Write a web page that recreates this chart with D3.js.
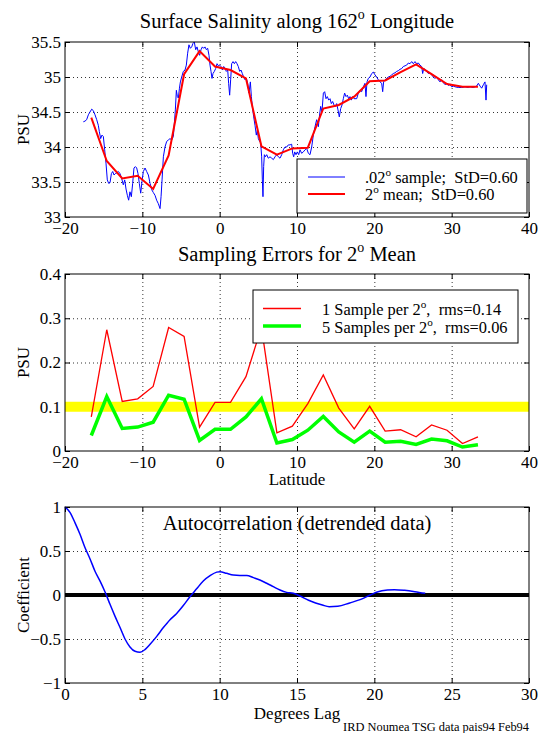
<!DOCTYPE html>
<html>
<head>
<meta charset="utf-8">
<script src="https://cdn.jsdelivr.net/npm/d3@7"></script>
<style>
  body { margin: 0; background: #fff; }
  svg text { font-family: "Liberation Serif", "Times New Roman", serif; fill: #000; white-space: pre; }
</style>
</head>
<body>
<svg id="chart" width="539" height="733"></svg>
<script>
// ---- data ----

// .02 deg samples (traced)
const sampleLat = [
  -17.63,-17.41,-17.2,-16.98,-16.77,-16.55,-16.34,-16.12,-15.9,-15.69,-15.56,-15.39,-15.22,-15.04,-14.87,-14.7,
  -14.53,-14.35,-14.18,-14.0,-13.83,-13.66,-13.49,-13.32,-13.1,-12.89,-12.67,-12.46,-12.28,-12.11,-11.94,-11.77,
  -11.6,-11.42,-11.25,-11.08,-10.9,-10.73,-10.56,-10.39,-10.21,-10.04,-9.87,-9.65,-9.44,-9.22,-9.0,-8.79,-8.58,
  -8.36,-8.15,-7.93,-7.71,-7.58,-7.45,-7.28,-7.07,-6.85,-6.64,-6.42,-6.21,-5.99,-5.86,-5.73,-5.6,-5.47,-5.34,
  -5.2,-5.08,-4.91,-4.7,-4.48,-4.31,-4.14,-3.97,-3.79,-3.62,-3.45,-3.28,-3.1,-2.93,-2.76,-2.59,-2.41,-2.24,
  -2.07,-1.9,-1.72,-1.55,-1.38,-1.25,-1.12,-0.99,-0.86,-0.69,-0.52,-0.34,-0.17,0.0,0.17,0.35,0.52,0.69,0.86,
  1.04,1.16,1.29,1.42,1.55,1.73,1.9,2.07,2.24,2.41,2.59,2.76,2.93,3.1,3.28,3.45,3.62,3.79,3.97,4.1,4.22,4.4,
  4.57,4.74,4.87,5.0,5.17,5.3,5.43,5.52,5.6,5.69,5.78,5.91,6.08,6.29,6.51,6.73,6.94,7.16,7.37,7.59,7.8,8.02,
  8.23,8.45,8.67,8.88,9.1,9.31,9.44,9.57,9.7,9.87,10.04,10.22,10.39,10.6,10.82,11.04,11.25,11.47,11.68,11.9,
  12.11,12.33,12.54,12.76,12.89,13.06,13.23,13.41,13.58,13.75,13.92,14.1,14.27,14.44,14.61,14.79,14.96,15.13,
  15.3,15.47,15.65,15.82,15.99,16.16,16.34,16.51,16.68,16.85,17.03,17.2,17.37,17.72,17.93,18.15,18.36,18.58,
  18.79,18.92,19.05,19.22,19.44,19.66,19.87,20.09,20.3,20.52,20.73,20.95,21.08,21.2,21.38,21.59,21.81,22.03,
  22.24,22.46,22.67,22.89,23.1,23.32,23.53,23.75,23.97,24.18,24.4,24.61,24.83,25.04,25.26,25.47,25.69,25.9,
  26.12,26.25,26.38,26.55,26.77,26.98,27.2,27.41,27.63,27.84,28.06,28.28,28.49,28.71,28.92,29.14,29.35,29.57,
  29.78,30.0,30.22,30.43,30.86,31.29,31.72,32.16,32.37,32.8,33.23,33.45,33.67,33.88,34.1,34.31,34.44,34.53
];
const sampleSal = [
  34.36,34.37,34.39,34.46,34.50,34.54,34.52,34.46,34.39,34.31,34.22,34.12,34.17,34.15,33.96,33.77,
  33.53,33.48,33.49,33.62,33.65,33.60,33.62,33.63,33.65,33.62,33.55,33.46,33.53,33.40,33.31,33.24,
  33.36,33.29,33.48,33.70,33.72,33.70,33.62,33.48,33.34,33.51,33.65,33.70,33.65,33.60,33.48,33.39,33.35,
  33.31,33.24,33.19,33.12,33.29,33.53,33.86,34.0,34.08,34.10,34.12,34.10,34.15,34.34,34.53,34.81,34.72,34.70,
  34.84,34.93,35.0,35.08,35.10,35.17,35.34,35.46,35.41,35.43,35.48,35.50,35.39,35.43,35.36,35.31,35.39,35.43,
  35.41,35.43,35.39,35.41,35.31,35.17,35.08,34.98,35.05,35.08,35.12,35.19,35.16,35.17,35.15,35.10,35.15,35.12,35.08,
  35.10,34.91,34.74,34.96,35.19,35.22,35.19,35.22,35.19,35.15,35.08,35.10,35.05,35.0,34.96,34.98,34.91,34.77,34.93,34.72,34.58,34.43,
  34.31,34.17,34.24,34.12,34.08,34.06,33.86,33.53,33.29,33.72,33.89,33.86,33.89,33.84,33.86,33.84,33.82,33.86,33.89,33.86,33.84,33.89,
  33.96,34.0,34.0,34.03,34.03,34.04,33.91,33.86,33.93,33.89,33.93,33.89,33.96,33.91,33.93,33.96,33.98,33.91,33.89,34.0,
  34.17,34.29,34.39,34.29,34.43,34.58,34.50,34.77,34.79,34.69,34.72,34.67,34.69,34.62,34.65,34.60,34.58,34.62,
  34.53,34.43,34.55,34.60,34.69,34.77,34.72,34.74,34.69,34.72,34.67,34.72,34.69,34.69,34.77,34.81,34.79,34.86,
  34.91,34.72,34.93,34.98,35.0,35.05,35.07,35.03,35.0,34.96,34.93,34.91,34.79,34.93,34.96,34.98,35.0,35.01,
  35.03,35.05,35.06,35.08,35.09,35.11,35.12,35.15,35.16,35.17,35.20,35.19,35.22,35.19,35.22,35.19,35.20,35.17,
  35.15,35.05,35.12,35.11,35.08,35.05,35.06,35.03,35.0,34.98,35.0,34.96,34.93,34.96,34.92,34.89,34.91,34.88,
  34.89,34.86,34.87,34.86,34.85,34.85,34.86,34.85,34.86,34.85,34.87,34.91,34.87,34.84,34.89,34.93,34.67,34.89
];

// 2 deg bins (centres), shared by the mean and the error curves
const binLat = [-16.6,-14.6,-12.6,-10.6,-8.6,-6.6,-4.6,-2.6,-0.6,1.4,3.4,5.4,7.4,9.4,11.4,13.4,15.4,17.4,19.4,21.4,23.4,25.4,27.4,29.4,31.4,33.4];
const meanSal = [34.42,33.80,33.55,33.59,33.40,33.88,35.04,35.37,35.15,35.10,34.98,34.01,33.89,33.98,33.99,34.55,34.60,34.72,34.94,34.95,35.07,35.18,35.04,34.90,34.86,34.86];
const err1 = [0.077,0.274,0.112,0.118,0.146,0.279,0.259,0.054,0.110,0.110,0.168,0.28,0.041,0.056,0.107,0.172,0.097,0.050,0.101,0.045,0.048,0.032,0.059,0.047,0.017,0.032];
const err5 = [0.035,0.123,0.051,0.054,0.065,0.126,0.117,0.024,0.049,0.049,0.077,0.118,0.018,0.026,0.047,0.078,0.043,0.020,0.045,0.020,0.022,0.015,0.027,0.023,0.009,0.014];
const errTarget = 0.1;

// autocorrelation
const lag = [0,0.32,0.65,0.97,1.29,1.62,1.94,2.26,2.59,2.91,3.23,3.56,3.88,4.2,4.53,4.85,5.17,5.5,5.93,6.36,6.79,7.22,7.65,8.08,8.51,8.94,9.38,9.81,10.02,10.45,10.88,11.31,11.75,12.18,12.6,13.04,13.47,13.9,14.33,14.76,15.19,15.75,16.2,16.64,17.08,17.64,18.41,19.08,19.74,20.19,20.85,21.3,21.96,22.62,23.29];
const acf = [1.0,0.94,0.82,0.69,0.54,0.41,0.27,0.16,0.034,-0.106,-0.24,-0.37,-0.50,-0.59,-0.64,-0.65,-0.62,-0.56,-0.47,-0.37,-0.28,-0.21,-0.12,-0.02,0.07,0.16,0.22,0.26,0.265,0.246,0.227,0.223,0.223,0.197,0.17,0.133,0.095,0.057,0.03,0.019,-0.011,-0.06,-0.09,-0.114,-0.133,-0.129,-0.09,-0.053,0.0,0.034,0.057,0.061,0.053,0.038,0.019];

// ticks
const latTicks = [-20,-10,0,10,20,30,40];
const salTicks = [33,33.5,34,34.5,35,35.5];
const errTicks = [0,0.1,0.2,0.3,0.4];
const lagTicks = [0,5,10,15,20,25,30];
const acfTicks = [-1,-0.5,0,0.5,1];

// ---- layout ----
const svg = d3.select('#chart');
const left = 65, right = 529;
const panels = {
  sal: { top: 42, bottom: 217 },
  err: { top: 274, bottom: 451 },
  acf: { top: 507, bottom: 683 }
};
const FS = 17, LEG_FS = 16.4, TITLE_FS = 20.5;
const fmt = d => (d < 0 ? '\u2212' + Math.abs(d) : String(d));

// text with a Matlab-style ^o degree mark
function degText(g, x, y, before, after, size, anchor) {
  const t = g.append('text').attr('x', x).attr('y', y)
    .attr('font-size', size).attr('text-anchor', anchor || 'start');
  t.append('tspan').text(before);
  t.append('tspan').attr('font-size', size * 0.68).attr('dy', -size * 0.42).text('o');
  t.append('tspan').attr('dy', size * 0.42).text(after);
  return t;
}

function frame(x, y, xt, yt) {
  const [y0, y1] = y.range();
  const g = svg.append('g');
  const xIn = xt.filter(v => v > x.domain()[0] && v < x.domain()[1]);
  const yIn = yt.filter(v => v > y.domain()[0] && v < y.domain()[1]);

  // dotted grid
  g.append('g').attr('transform', `translate(0,${y0})`)
    .call(d3.axisBottom(x).tickValues(xIn).tickSize(-(y0 - y1)).tickFormat(''))
    .call(s => s.select('.domain').remove());
  g.append('g').attr('transform', `translate(${left},0)`)
    .call(d3.axisLeft(y).tickValues(yIn).tickSize(-(right - left)).tickFormat(''))
    .call(s => s.select('.domain').remove());
  g.selectAll('.tick line').attr('stroke', '#000').attr('stroke-width', 0.8).attr('stroke-dasharray', '1,3');

  // inward ticks on all four sides
  const ax = [
    g.append('g').attr('transform', `translate(0,${y0})`)
      .call(d3.axisBottom(x).tickValues(xt).tickSize(-5).tickPadding(5).tickFormat(fmt)),
    g.append('g').attr('transform', `translate(0,${y1})`)
      .call(d3.axisTop(x).tickValues(xt).tickSize(-5).tickFormat('')),
    g.append('g').attr('transform', `translate(${left},0)`)
      .call(d3.axisLeft(y).tickValues(yt).tickSize(-5).tickPadding(4).tickFormat(fmt)),
    g.append('g').attr('transform', `translate(${right},0)`)
      .call(d3.axisRight(y).tickValues(yt).tickSize(-5).tickFormat(''))
  ];
  ax.forEach(a => {
    a.select('.domain').remove();
    a.attr('font-family', null).attr('font-size', FS);
    a.selectAll('line').attr('stroke', '#000');
  });
  return g;
}

function box(g, x, y) {
  g.append('rect')
    .attr('x', left).attr('y', y.range()[1])
    .attr('width', right - left).attr('height', y.range()[0] - y.range()[1])
    .attr('fill', 'none').attr('stroke', '#000').attr('stroke-width', 1);
}

function ylabel(txt, p) {
  svg.append('text')
    .attr('transform', `translate(29,${(p.top + p.bottom) / 2}) rotate(-90)`)
    .attr('text-anchor', 'middle').attr('font-size', FS).text(txt);
}

// ---- 1. surface salinity ----
{
  const p = panels.sal;
  const x = d3.scaleLinear().domain([-20, 40]).range([left, right]);
  const y = d3.scaleLinear().domain([33, 35.5]).range([p.bottom, p.top]);
  const g = frame(x, y, latTicks, salTicks);

  const line = d3.line().x(d => x(d[0])).y(d => y(d[1]));
  g.append('path').datum(d3.zip(sampleLat, sampleSal))
    .attr('d', line).attr('fill', 'none').attr('stroke', '#0000ff').attr('stroke-width', 1);
  g.append('path').datum(d3.zip(binLat, meanSal))
    .attr('d', line).attr('fill', 'none').attr('stroke', '#ff0000').attr('stroke-width', 2);

  // legend
  const lg = g.append('g');
  lg.append('rect').attr('x', 297).attr('y', 159).attr('width', 230).attr('height', 54)
    .attr('fill', '#fff').attr('stroke', '#000');
  lg.append('line').attr('x1', 308).attr('x2', 345).attr('y1', 177).attr('y2', 177)
    .attr('stroke', '#0000ff').attr('stroke-width', 1);
  lg.append('line').attr('x1', 308).attr('x2', 345).attr('y1', 194).attr('y2', 194)
    .attr('stroke', '#ff0000').attr('stroke-width', 2);
  degText(lg, 365, 182.5, '.02', ' sample;  StD=0.60', LEG_FS);
  degText(lg, 365, 200, '2', ' mean;  StD=0.60', LEG_FS);

  box(g, x, y);
  degText(svg, (left + right) / 2, 28, 'Surface Salinity along 162', ' Longitude', TITLE_FS, 'middle');
  ylabel('PSU', p);
}

// ---- 2. sampling errors ----
{
  const p = panels.err;
  const x = d3.scaleLinear().domain([-20, 40]).range([left, right]);
  const y = d3.scaleLinear().domain([0, 0.4]).range([p.bottom, p.top]);
  const g = frame(x, y, latTicks, errTicks);

  g.append('line')
    .attr('x1', x(x.domain()[0])).attr('x2', x(x.domain()[1]))
    .attr('y1', y(errTarget)).attr('y2', y(errTarget))
    .attr('stroke', '#ffff00').attr('stroke-width', 10);

  const line = d3.line().x(d => x(d[0])).y(d => y(d[1]));
  g.append('path').datum(d3.zip(binLat, err1))
    .attr('d', line).attr('fill', 'none').attr('stroke', '#ff0000').attr('stroke-width', 1.3);
  g.append('path').datum(d3.zip(binLat, err5))
    .attr('d', line).attr('fill', 'none').attr('stroke', '#00ff00').attr('stroke-width', 3.5);

  const lg = g.append('g');
  lg.append('rect').attr('x', 253).attr('y', 290).attr('width', 265).attr('height', 53)
    .attr('fill', '#fff').attr('stroke', '#000');
  lg.append('line').attr('x1', 263).attr('x2', 301).attr('y1', 308.5).attr('y2', 308.5)
    .attr('stroke', '#ff0000').attr('stroke-width', 1.3);
  lg.append('line').attr('x1', 263).attr('x2', 301).attr('y1', 326).attr('y2', 326)
    .attr('stroke', '#00ff00').attr('stroke-width', 3.5);
  degText(lg, 322, 315, '1 Sample per 2', ',  rms=0.14', LEG_FS);
  degText(lg, 322, 332.5, '5 Samples per 2', ',  rms=0.06', LEG_FS);

  box(g, x, y);
  degText(svg, (left + right) / 2, 261, 'Sampling Errors for 2', ' Mean', TITLE_FS, 'middle');
  ylabel('PSU', p);
  svg.append('text').attr('x', (left + right) / 2).attr('y', 485)
    .attr('text-anchor', 'middle').attr('font-size', FS).text('Latitude');
}

// ---- 3. autocorrelation ----
{
  const p = panels.acf;
  const x = d3.scaleLinear().domain([0, 30]).range([left, right]);
  const y = d3.scaleLinear().domain([-1, 1]).range([p.bottom, p.top]);
  const g = frame(x, y, lagTicks, acfTicks);

  g.append('line')
    .attr('x1', x(x.domain()[0])).attr('x2', x(x.domain()[1]))
    .attr('y1', y(0)).attr('y2', y(0))
    .attr('stroke', '#000').attr('stroke-width', 4);

  const line = d3.line().curve(d3.curveMonotoneX).x(d => x(d[0])).y(d => y(d[1]));
  g.append('path').datum(d3.zip(lag, acf))
    .attr('d', line).attr('fill', 'none').attr('stroke', '#0000ff').attr('stroke-width', 1.5);

  box(g, x, y);
  svg.append('text').attr('x', (left + right) / 2).attr('y', 529.5)
    .attr('text-anchor', 'middle').attr('font-size', TITLE_FS).text('Autocorrelation (detrended data)');
  ylabel('Coefficient', p);
  svg.append('text').attr('x', (left + right) / 2).attr('y', 719)
    .attr('text-anchor', 'middle').attr('font-size', FS).text('Degrees Lag');
  svg.append('text').attr('x', right).attr('y', 731)
    .attr('text-anchor', 'end').attr('font-size', 12.4).text('IRD Noumea TSG data pais94 Feb94');
}
</script>
</body>
</html>
